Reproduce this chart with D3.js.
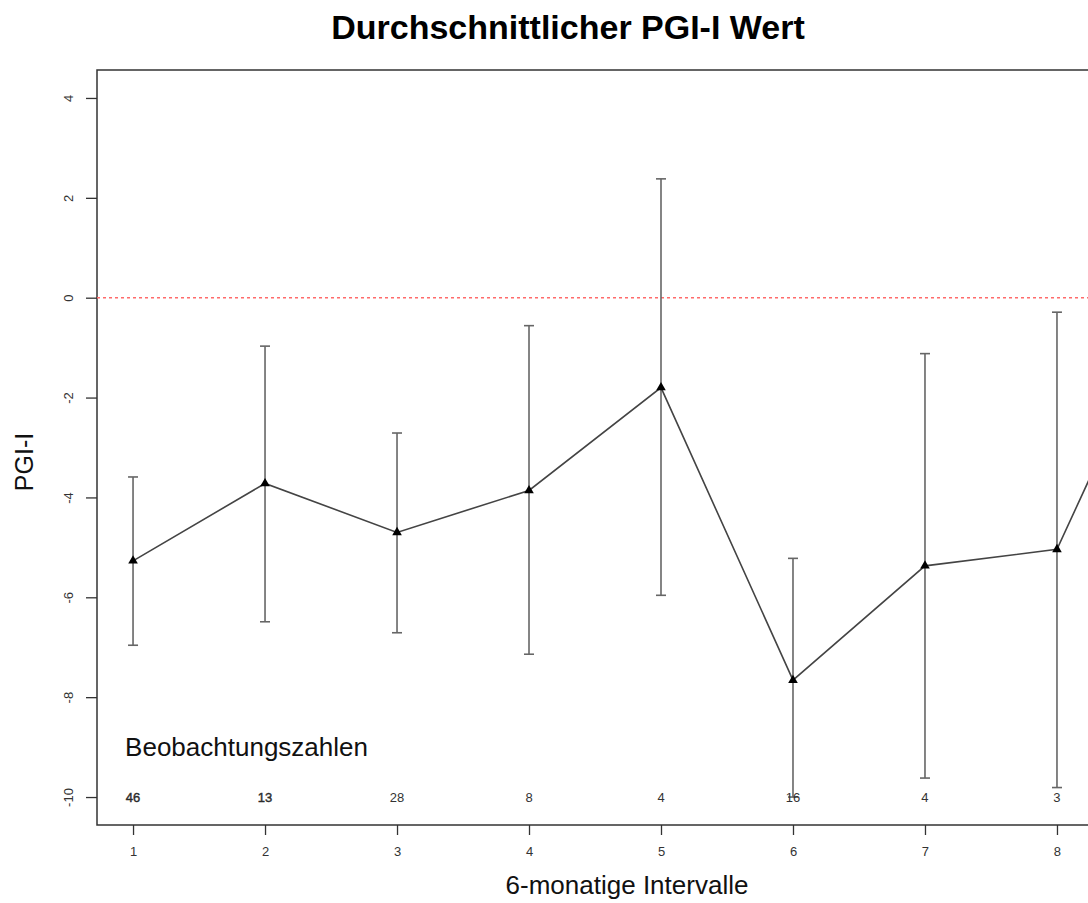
<!DOCTYPE html>
<html lang="de">
<head>
  <meta charset="UTF-8">
  <script src="https://cdn.jsdelivr.net/npm/d3@7"></script>
  <title>Durchschnittlicher PGI-I Wert</title>
  <style>
    body { margin: 0; overflow: hidden; background: #fff; }
    svg { display: block; }
    text { font-family: "Liberation Sans", Arial, sans-serif; }
  </style>
</head>
<body>
<div id="chart"></div>
<script>
  // Data
  var intervals = [1, 2, 3, 4, 5, 6, 7, 8, 9];
  var meanPGI   = [-5.27, -3.72, -4.70, -3.86, -1.80, -7.66, -5.37, -5.04, 0.7];
  var lowerCI   = [-6.96, -6.49, -6.71, -7.14, -5.96, -10.0, -9.62, -9.81];
  var upperCI   = [-3.59, -0.97, -2.71, -0.56, 2.38, -5.22, -1.12, -0.29];
  var obsCounts = [46, 13, 28, 8, 4, 16, 4, 3];
  var yTicks = [-10, -8, -6, -4, -2, 0, 2, 4];
  var xTicks = [1, 2, 3, 4, 5, 6, 7, 8];

  var width = 1088, height = 903;
  var box = {left: 97, top: 70, right: 1225, bottom: 825};

  var svg = d3.select("#chart").append("svg")
      .attr("width", width)
      .attr("height", height);

  // Scales (R style: 4% padding around the data range)
  var x = d3.scaleLinear().domain([0.727, 9.273]).range([box.left, box.right]);
  var y = d3.scaleLinear().domain([-10.56, 4.56]).range([box.bottom, box.top]);

  // Title
  svg.append("text")
    .attr("x", 568).attr("y", 39)
    .attr("text-anchor", "middle")
    .attr("font-size", 34).attr("font-weight", "bold")
    .attr("fill", "#000")
    .text("Durchschnittlicher PGI-I Wert");

  // Axes
  var yAxis = svg.append("g")
    .attr("transform", "translate(" + box.left + ",0)")
    .call(d3.axisLeft(y).tickValues(yTicks).tickSize(11).tickFormat(d3.format("d")));
  yAxis.select(".domain").remove();
  yAxis.selectAll(".tick line").attr("stroke", "#333").attr("stroke-width", 1.3);
  yAxis.selectAll(".tick text")
    .attr("x", 0).attr("dy", "0.35em")
    .attr("transform", "translate(-29,0) rotate(-90)")
    .attr("text-anchor", "middle")
    .attr("font-size", 13).attr("fill", "#333")
    .text(function(d) { return d < 0 ? "-" + Math.abs(d) : d; });

  var xAxis = svg.append("g")
    .attr("transform", "translate(0," + box.bottom + ")")
    .call(d3.axisBottom(x).tickValues(xTicks).tickSize(10).tickPadding(12));
  xAxis.select(".domain").remove();
  xAxis.selectAll(".tick line").attr("stroke", "#333").attr("stroke-width", 1.3);
  xAxis.selectAll(".tick text").attr("font-size", 13).attr("fill", "#333");

  // Plot box
  svg.append("rect")
    .attr("x", box.left).attr("y", box.top)
    .attr("width", box.right - box.left).attr("height", box.bottom - box.top)
    .attr("fill", "none").attr("stroke", "#333").attr("stroke-width", 1.5);

  // Reference line at 0
  svg.append("line")
    .attr("x1", box.left).attr("x2", box.right)
    .attr("y1", y(0)).attr("y2", y(0))
    .attr("stroke", "#ff6b6b").attr("stroke-width", 1.6)
    .attr("stroke-dasharray", "3,3");

  // Axis labels
  svg.append("text")
    .attr("x", 627).attr("y", 894)
    .attr("text-anchor", "middle")
    .attr("font-size", 26).attr("fill", "#111")
    .text("6-monatige Intervalle");

  svg.append("text")
    .attr("transform", "translate(33,462) rotate(-90)")
    .attr("text-anchor", "middle")
    .attr("font-size", 25).attr("fill", "#111")
    .text("PGI-I");

  // Error bars
  var bars = svg.append("g").attr("stroke", "#666").attr("stroke-width", 1.6);
  var capW = 5;
  lowerCI.forEach(function(lo, i) {
    var cx = x(intervals[i]);
    bars.append("line")
      .attr("x1", cx).attr("x2", cx)
      .attr("y1", y(lo)).attr("y2", y(upperCI[i]));
    bars.append("line")
      .attr("x1", cx - capW).attr("x2", cx + capW)
      .attr("y1", y(lo)).attr("y2", y(lo));
    bars.append("line")
      .attr("x1", cx - capW).attr("x2", cx + capW)
      .attr("y1", y(upperCI[i])).attr("y2", y(upperCI[i]));
  });

  // Mean line
  var line = d3.line()
    .x(function(d, i) { return x(intervals[i]); })
    .y(function(d) { return y(d); });

  svg.append("path")
    .datum(meanPGI)
    .attr("d", line)
    .attr("fill", "none")
    .attr("stroke", "#444")
    .attr("stroke-width", 1.6);

  // Triangle markers
  svg.selectAll(".pt")
    .data(meanPGI)
    .enter().append("path")
      .attr("class", "pt")
      .attr("transform", function(d, i) { return "translate(" + x(intervals[i]) + "," + y(d) + ")"; })
      .attr("d", d3.symbol().type(d3.symbolTriangle).size(40))
      .attr("fill", "#000");

  // Observation counts
  svg.append("text")
    .attr("x", x(0.94)).attr("y", y(-9))
    .attr("dy", "0.35em")
    .attr("font-size", 26).attr("fill", "#111")
    .text("Beobachtungszahlen");

  svg.selectAll(".obs")
    .data(obsCounts)
    .enter().append("text")
      .attr("class", "obs")
      .attr("x", function(d, i) { return x(intervals[i]); })
      .attr("y", y(-10))
      .attr("dy", "0.35em")
      .attr("text-anchor", "middle")
      .attr("font-size", 13)
      .attr("fill", "#333")
      .attr("stroke", function(d, i) { return i < 2 ? "#222" : "none"; })
      .attr("stroke-width", 0.4)
      .text(function(d) { return d; });
</script>
</body>
</html>
